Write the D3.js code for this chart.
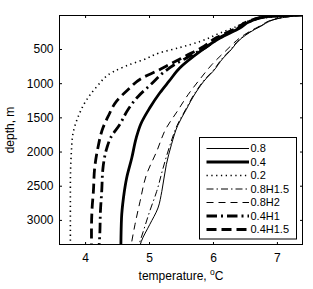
<!DOCTYPE html>
<html>
<head>
<meta charset="utf-8">
<script src="https://cdn.jsdelivr.net/npm/d3@7"></script>
<style>
  body { margin: 0; background: #fff; }
  text { font-family: "Liberation Sans", Arial, sans-serif; }
</style>
</head>
<body>
<svg width="313" height="289"></svg>
<script>
// canvas size
const width = 313
const height = 289

// axis ticks
const xTicks = [4, 5, 6, 7]
const yTicks = [500, 1000, 1500, 2000, 2500, 3000]

// legend labels, in the order of the legend
const labels = ["0.8", "0.4", "0.2", "0.8H1.5", "0.8H2", "0.4H1", "0.4H1.5"]

// depth (m) and temperature (C), one pair per run
const d08 = [0, 48, 171, 340, 536, 633, 829, 925, 1140, 1389, 1616, 1900, 2193, 2583, 2826, 3070, 3314, 3370]
const t08 = [7.45, 7.05, 6.74, 6.45, 6.26, 6.16, 6.00, 5.90, 5.73, 5.58, 5.45, 5.35, 5.27, 5.20, 5.14, 5.01, 4.88, 4.86]

const d04 = [0, 25, 98, 194, 340, 536, 779, 975, 1140, 1364, 1600, 1800, 2095, 2387, 2680, 2972, 3370]
const t04 = [7.45, 6.84, 6.58, 6.42, 6.11, 5.80, 5.48, 5.31, 5.17, 5.01, 4.87, 4.80, 4.73, 4.65, 4.60, 4.57, 4.56]

const d02 = [0, 30, 98, 170, 267, 390, 479, 560, 651, 686, 833, 1054, 1250, 1495, 1740, 1936, 2500, 3370]
const t02 = [7.45, 6.95, 6.53, 6.37, 6.11, 5.80, 5.48, 5.15, 4.93, 4.82, 4.44, 4.18, 4.02, 3.89, 3.81, 3.79, 3.77, 3.77]

const d08h15 = [0, 48, 171, 340, 536, 633, 829, 925, 1140, 1389, 1616, 1900, 2241, 2583, 2876, 3168, 3370]
const t08h15 = [7.45, 7.04, 6.73, 6.44, 6.25, 6.15, 5.99, 5.89, 5.72, 5.57, 5.44, 5.33, 5.22, 5.12, 5.01, 4.91, 4.84]

const d08h2 = [0, 48, 171, 292, 536, 731, 925, 1169, 1414, 1656, 1998, 2339, 2729, 3070, 3370]
const t08h2 = [7.45, 7.03, 6.72, 6.49, 6.19, 5.98, 5.81, 5.61, 5.44, 5.27, 5.12, 4.96, 4.86, 4.78, 4.72]

const d04h1 = [0, 25, 98, 194, 336, 482, 599, 716, 848, 1009, 1194, 1389, 1608, 1798, 1949, 2241, 2583, 2876, 3216, 3370]
const t04h1 = [7.45, 6.84, 6.57, 6.40, 6.10, 5.88, 5.65, 5.42, 5.22, 5.04, 4.83, 4.67, 4.54, 4.40, 4.34, 4.28, 4.26, 4.24, 4.23, 4.22]

const d04h15 = [0, 25, 98, 194, 336, 482, 599, 716, 818, 925, 1096, 1267, 1487, 1652, 1949, 2241, 2583, 2826, 3168, 3370]
const t04h15 = [7.45, 6.84, 6.55, 6.37, 6.05, 5.82, 5.58, 5.34, 5.13, 4.89, 4.67, 4.49, 4.36, 4.28, 4.20, 4.15, 4.13, 4.11, 4.10, 4.10]

const depths = [d08, d04, d02, d08h15, d08h2, d04h1, d04h15]
const temps = [t08, t04, t02, t08h15, t08h2, t04h1, t04h15]

// line styles per run (width, dash pattern)
const styles = [
  {w: 1, dash: null},
  {w: 2.8, dash: null},
  {w: 1.6, dash: "1.3,3.5"},
  {w: 1, dash: "7,3,1.5,3"},
  {w: 1, dash: "7,5"},
  {w: 2.8, dash: "10.5,4,2,4"},
  {w: 2.8, dash: "10,5"}
]

var svg = d3.select("svg")

var x = d3.scaleLinear().domain([3.6, 7.4]).range([59.5, 302.5])
var y = d3.scaleLinear().domain([10, 3360]).range([15.5, 244.5])

svg.append("defs").append("clipPath").attr("id", "clip")
  .append("rect")
  .attr("x", x.range()[0]).attr("y", y.range()[0])
  .attr("width", x.range()[1] - x.range()[0])
  .attr("height", y.range()[1] - y.range()[0])

var line = d3.line()
  .x(d => x(d[1]))
  .y(d => y(d[0]))
  .curve(d3.curveMonotoneY)

var series = labels.map((lab, i) => ({
  label: lab,
  pts: depths[i].map((d, j) => [d, temps[i][j]]),
  style: styles[i]
}))

svg.append("g").attr("clip-path", "url(#clip)")
  .selectAll("path")
  .data(series)
  .enter()
  .append("path")
  .attr("d", s => line(s.pts))
  .attr("fill", "none")
  .attr("stroke", "#000")
  .attr("stroke-width", s => s.style.w)
  .attr("stroke-dasharray", s => s.style.dash)

// axes (ticks inside, on all four sides like matlab box on)
var tl = 2.5
svg.append("g").attr("transform", "translate(0," + y.range()[1] + ")")
  .call(d3.axisBottom(x).tickValues(xTicks).tickSize(-tl).tickPadding(9).tickFormat(d3.format("d")))
svg.append("g").attr("transform", "translate(0," + y.range()[0] + ")")
  .call(d3.axisTop(x).tickValues(xTicks).tickSize(-tl).tickFormat(""))
svg.append("g").attr("transform", "translate(" + x.range()[0] + ",0)")
  .call(d3.axisLeft(y).tickValues(yTicks).tickSize(-tl).tickPadding(6).tickFormat(d3.format("d")))
svg.append("g").attr("transform", "translate(" + x.range()[1] + ",0)")
  .call(d3.axisRight(y).tickValues(yTicks).tickSize(-tl).tickFormat(""))

svg.selectAll(".domain").remove()
svg.selectAll(".tick line").attr("stroke", "#000")
svg.selectAll(".tick text")
  .attr("font-family", "Liberation Sans, Arial, sans-serif")
  .attr("font-size", 12)
  .attr("fill", "#000")

svg.append("rect")
  .attr("x", x.range()[0]).attr("y", y.range()[0])
  .attr("width", x.range()[1] - x.range()[0])
  .attr("height", y.range()[1] - y.range()[0])
  .attr("fill", "none").attr("stroke", "#000").attr("stroke-width", 1)

// axis labels
var xl = svg.append("text")
  .attr("x", (x.range()[0] + x.range()[1]) / 2)
  .attr("y", 279.5)
  .attr("text-anchor", "middle")
  .attr("font-size", 12)
xl.append("tspan").text("temperature, ")
xl.append("tspan").attr("font-size", 8.5).attr("dy", -5).text("o")
xl.append("tspan").attr("dy", 5).text("C")

svg.append("text")
  .attr("transform", "translate(14," + ((y.range()[0] + y.range()[1]) / 2) + ") rotate(-90)")
  .attr("text-anchor", "middle")
  .attr("font-size", 12)
  .text("depth, m")

// legend
var lg = svg.append("g")
lg.append("rect")
  .attr("x", 199.5).attr("y", 137.5)
  .attr("width", 97).attr("height", 101.5)
  .attr("fill", "#fff").attr("stroke", "#000").attr("stroke-width", 1)

var row = lg.selectAll("g.row")
  .data(series)
  .enter()
  .append("g")
  .attr("class", "row")
  .attr("transform", (s, i) => "translate(0," + (148.5 + i * 13.5) + ")")

row.append("line")
  .attr("x1", 206.5).attr("x2", 249)
  .attr("stroke", "#000")
  .attr("stroke-width", s => s.style.w)
  .attr("stroke-dasharray", s => s.style.dash)

row.append("text")
  .attr("x", 250.5)
  .attr("dy", "0.36em")
  .attr("font-size", 11)
  .text(s => s.label)
</script>
</body>
</html>
